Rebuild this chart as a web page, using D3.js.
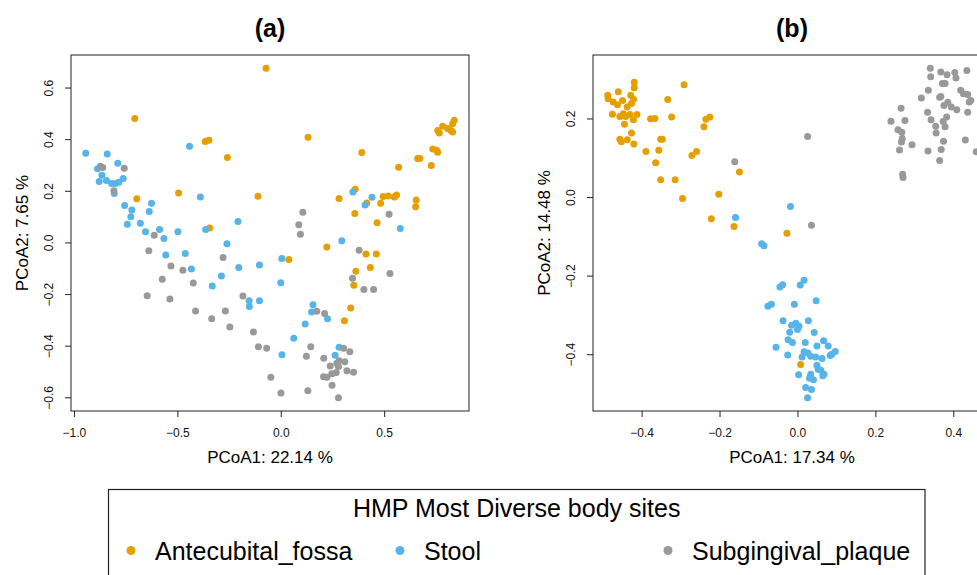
<!DOCTYPE html>
<html>
<head>
<meta charset="utf-8">
<script src="https://cdn.jsdelivr.net/npm/d3@7"></script>
<style>
  html, body { margin: 0; padding: 0; background: #fff; }
  svg { display: block; font-family: "Liberation Sans", Arial, Helvetica, sans-serif; }
</style>
</head>
<body>
<script>
// HMP most diverse body sites: PCoA ordinations, two distance metrics.
const groups = ["Antecubital_fossa", "Stool", "Subgingival_plaque"];
const groupColors = ["#E69F00", "#56B4E9", "#999999"];

// Panel (a) coordinates [PCoA1, PCoA2]
const aFossa = [[-0.071,0.675],[-0.706,0.480],[-0.365,0.391],[-0.347,0.396],[-0.258,0.329],[-0.696,0.169],[-0.494,0.191],[-0.110,0.179],[-0.344,0.056],[0.132,0.407],[0.392,0.348],[0.839,0.473],[0.831,0.460],[0.823,0.434],[0.807,0.441],[0.783,0.450],[0.759,0.434],[0.767,0.424],[0.831,0.428],[0.735,0.362],[0.754,0.357],[0.759,0.349],[0.662,0.325],[0.673,0.325],[0.570,0.291],[0.728,0.298],[0.360,0.206],[0.282,0.170],[0.495,0.178],[0.520,0.180],[0.549,0.176],[0.560,0.184],[0.416,0.153],[0.483,0.152],[0.655,0.164],[0.652,0.138],[0.358,0.112],[0.466,0.076],[0.223,-0.018],[0.039,-0.066],[0.412,-0.045],[0.462,-0.045],[0.433,-0.097],[0.363,-0.112],[0.353,-0.166],[0.338,-0.254],[0.308,-0.303]];
const aStool = [[-0.943,0.345],[-0.839,0.343],[-0.441,0.373],[-0.788,0.307],[-0.886,0.285],[-0.865,0.260],[-0.878,0.236],[-0.843,0.240],[-0.818,0.228],[-0.799,0.228],[-0.783,0.233],[-0.762,0.248],[-0.805,0.190],[-0.389,0.176],[-0.755,0.143],[-0.625,0.152],[-0.720,0.126],[-0.636,0.120],[-0.725,0.099],[-0.207,0.081],[-0.742,0.070],[-0.679,0.074],[-0.363,0.050],[-0.654,0.041],[-0.586,0.050],[-0.497,0.041],[-0.565,0.015],[-0.556,-0.049],[-0.462,-0.043],[-0.260,-0.005],[-0.432,-0.103],[-0.203,-0.097],[-0.103,-0.087],[0.005,-0.062],[-0.331,-0.169],[-0.287,-0.130],[0.000,-0.156],[-0.153,-0.226],[-0.152,-0.248],[-0.103,-0.226],[0.349,0.195],[0.441,0.175],[0.408,0.145],[0.578,0.054],[0.295,0.006],[0.156,-0.241],[0.149,-0.270],[0.226,-0.296],[0.118,-0.316],[0.063,-0.371],[0.282,-0.406],[0.006,-0.435],[0.263,-0.437]];
const aPlaque = [[-0.872,0.295],[-0.861,0.290],[-0.757,0.287],[-0.807,0.200],[-0.612,0.028],[-0.638,-0.032],[-0.279,-0.058],[-0.531,-0.091],[-0.473,-0.108],[-0.573,-0.143],[-0.423,-0.157],[-0.646,-0.207],[-0.536,-0.219],[-0.183,-0.208],[-0.412,-0.266],[-0.268,-0.266],[-0.334,-0.296],[-0.246,-0.328],[-0.132,-0.347],[-0.108,-0.404],[-0.068,-0.410],[-0.048,-0.522],[0.001,-0.583],[0.107,0.117],[0.524,0.109],[0.087,0.068],[0.095,0.032],[0.379,-0.030],[0.528,-0.120],[0.347,-0.139],[0.402,-0.182],[0.449,-0.182],[0.174,-0.267],[0.212,-0.275],[0.145,-0.404],[0.304,-0.410],[0.334,-0.424],[0.124,-0.441],[0.208,-0.449],[0.282,-0.458],[0.271,-0.468],[0.310,-0.462],[0.239,-0.479],[0.279,-0.481],[0.268,-0.504],[0.247,-0.509],[0.320,-0.497],[0.352,-0.503],[0.207,-0.520],[0.223,-0.522],[0.248,-0.553],[0.131,-0.575],[0.279,-0.602]];

// Panel (b) coordinates [PCoA1, PCoA2]
const bFossa = [[-0.419,0.292],[-0.419,0.278],[-0.460,0.268],[-0.487,0.259],[-0.486,0.250],[-0.473,0.242],[-0.462,0.235],[-0.449,0.246],[-0.428,0.259],[-0.421,0.249],[-0.426,0.238],[-0.437,0.229],[-0.475,0.211],[-0.456,0.205],[-0.447,0.212],[-0.441,0.205],[-0.430,0.210],[-0.421,0.197],[-0.412,0.210],[-0.444,0.185],[-0.426,0.163],[-0.456,0.147],[-0.452,0.141],[-0.437,0.146],[-0.420,0.135],[-0.291,0.286],[-0.333,0.248],[-0.377,0.199],[-0.366,0.200],[-0.323,0.204],[-0.351,0.147],[-0.347,0.147],[-0.389,0.116],[-0.356,0.119],[-0.364,0.087],[-0.351,0.044],[-0.314,0.044],[-0.295,-0.004],[-0.240,0.179],[-0.235,0.198],[-0.225,0.204],[-0.271,0.106],[-0.259,0.116],[-0.202,0.007],[-0.221,-0.055],[-0.163,-0.075],[-0.149,0.064],[-0.027,-0.092],[0.008,-0.426]];
const bStool = [[-0.159,-0.052],[-0.018,-0.024],[-0.092,-0.119],[-0.086,-0.124],[-0.045,-0.229],[-0.038,-0.223],[0.007,-0.224],[0.017,-0.212],[-0.076,-0.278],[-0.067,-0.273],[-0.008,-0.273],[0.048,-0.264],[-0.037,-0.315],[0.028,-0.315],[-0.015,-0.326],[-0.004,-0.321],[0.004,-0.329],[0.000,-0.337],[-0.020,-0.344],[0.043,-0.345],[-0.024,-0.363],[-0.013,-0.370],[0.020,-0.370],[0.067,-0.366],[0.079,-0.379],[0.050,-0.379],[-0.055,-0.382],[0.017,-0.394],[0.027,-0.397],[0.012,-0.407],[0.034,-0.405],[0.047,-0.407],[0.063,-0.411],[0.084,-0.403],[0.097,-0.393],[0.088,-0.400],[-0.025,-0.402],[0.050,-0.428],[0.053,-0.438],[0.060,-0.441],[0.068,-0.451],[0.065,-0.455],[0.034,-0.451],[0.031,-0.461],[0.041,-0.465],[0.003,-0.452],[0.021,-0.485],[0.036,-0.490],[0.026,-0.511]];
const bPlaque = [[-0.161,0.090],[0.026,0.154],[0.036,-0.072],[0.341,0.328],[0.368,0.318],[0.384,0.311],[0.404,0.317],[0.435,0.322],[0.342,0.306],[0.407,0.303],[0.372,0.289],[0.379,0.289],[0.336,0.272],[0.419,0.272],[0.426,0.263],[0.437,0.261],[0.445,0.246],[0.441,0.242],[0.365,0.254],[0.368,0.256],[0.318,0.252],[0.386,0.241],[0.376,0.233],[0.395,0.229],[0.409,0.222],[0.266,0.226],[0.334,0.216],[0.437,0.216],[0.383,0.204],[0.240,0.193],[0.276,0.195],[0.343,0.197],[0.374,0.192],[0.355,0.180],[0.379,0.179],[0.258,0.171],[0.268,0.165],[0.356,0.163],[0.269,0.149],[0.267,0.140],[0.294,0.133],[0.375,0.142],[0.431,0.145],[0.459,0.115],[0.262,0.120],[0.335,0.117],[0.369,0.121],[0.365,0.093],[0.270,0.058],[0.271,0.050]];

// Axis ticks and labels
const aXTicks = [-1.0, -0.5, 0.0, 0.5];
const aYTicks = [-0.6, -0.4, -0.2, 0.0, 0.2, 0.4, 0.6];
const bXTicks = [-0.4, -0.2, 0.0, 0.2, 0.4];
const bYTicks = [-0.4, -0.2, 0.0, 0.2];
const panelTitles = ["(a)", "(b)"];
const xAxisTitles = ["PCoA1: 22.14 %", "PCoA1: 17.34 %"];
const yAxisTitles = ["PCoA2: 7.65 %", "PCoA2: 14.48 %"];
const legendTitle = "HMP Most Diverse body sites";

const W = 977, H = 575;
const svg = d3.select("body").append("svg").attr("width", W).attr("height", H);
const fmt = d3.format(".1f");

// Extend the data range by 4% on each side, as base R does
function padded(values) {
  const [lo, hi] = d3.extent(values);
  const p = (hi - lo) * 0.04;
  return [lo - p, hi + p];
}

function drawPanel(opts) {
  const { left, right, top, bottom, series, xTicks, yTicks, title, xTitle, yTitle } = opts;
  const all = series.flat();
  const x = d3.scaleLinear().domain(padded(all.map(d => d[0]))).range([left, right]);
  const y = d3.scaleLinear().domain(padded(all.map(d => d[1]))).range([bottom, top]);
  const g = svg.append("g");

  // points, one layer per body site
  series.forEach((pts, i) => {
    g.append("g").selectAll("circle").data(pts).join("circle")
      .attr("cx", d => x(d[0]))
      .attr("cy", d => y(d[1]))
      .attr("r", 3.5)
      .attr("fill", groupColors[i]);
  });

  // plot frame
  g.append("rect")
    .attr("x", left).attr("y", top)
    .attr("width", right - left).attr("height", bottom - top)
    .attr("fill", "none").attr("stroke", "#222").attr("stroke-width", 1);

  // x axis
  const gx = g.append("g").attr("transform", `translate(0,${bottom})`)
    .call(d3.axisBottom(x).tickValues(xTicks).tickSize(6).tickPadding(11).tickFormat(fmt));
  gx.select(".domain").remove();
  gx.attr("font-family", null).attr("font-size", 12);
  gx.selectAll(".tick line").attr("stroke", "#222");
  gx.selectAll(".tick text").attr("fill", "#111");

  // y axis with labels turned parallel to the axis
  const gy = g.append("g").attr("transform", `translate(${left},0)`)
    .call(d3.axisLeft(y).tickValues(yTicks).tickSize(6).tickFormat(fmt));
  gy.select(".domain").remove();
  gy.attr("font-family", null).attr("font-size", 12);
  gy.selectAll(".tick line").attr("stroke", "#222");
  gy.selectAll(".tick text")
    .attr("x", null).attr("dy", "0.35em")
    .attr("text-anchor", "middle")
    .attr("fill", "#111")
    .attr("transform", "translate(-22,0) rotate(-90)");

  // titles
  g.append("text")
    .attr("x", (left + right) / 2).attr("y", 36.5)
    .attr("text-anchor", "middle")
    .attr("font-size", 25).attr("font-weight", "bold")
    .text(title);
  g.append("text")
    .attr("x", (left + right) / 2).attr("y", 463)
    .attr("text-anchor", "middle")
    .attr("font-size", 17)
    .text(xTitle);
  g.append("text")
    .attr("transform", `translate(${left - 43},${(top + bottom) / 2}) rotate(-90)`)
    .attr("text-anchor", "middle")
    .attr("font-size", 17)
    .text(yTitle);
}

drawPanel({
  left: 71, right: 469, top: 55, bottom: 411,
  series: [aFossa, aStool, aPlaque],
  xTicks: aXTicks, yTicks: aYTicks,
  title: panelTitles[0], xTitle: xAxisTitles[0], yTitle: yAxisTitles[0]
});
drawPanel({
  left: 593, right: 991, top: 55, bottom: 411,
  series: [bFossa, bStool, bPlaque],
  xTicks: bXTicks, yTicks: bYTicks,
  title: panelTitles[1], xTitle: xAxisTitles[1], yTitle: yAxisTitles[1]
});

// shared legend
const legend = svg.append("g");
legend.append("rect")
  .attr("x", 108.5).attr("y", 489.5)
  .attr("width", 816.5).attr("height", 120)
  .attr("fill", "none").attr("stroke", "#222").attr("stroke-width", 1.2);
legend.append("text")
  .attr("x", 516.7).attr("y", 517)
  .attr("text-anchor", "middle")
  .attr("font-size", 25)
  .text(legendTitle);
const itemX = [131, 400, 668];
const items = legend.selectAll("g.item").data(groups).join("g").attr("class", "item")
  .attr("transform", (d, i) => `translate(${itemX[i]},0)`);
items.append("circle").attr("cx", 0).attr("cy", 550.5).attr("r", 4.5)
  .attr("fill", (d, i) => groupColors[i]);
items.append("text").attr("x", 24).attr("y", 560)
  .attr("font-size", 25)
  .text(d => d);
</script>
</body>
</html>
